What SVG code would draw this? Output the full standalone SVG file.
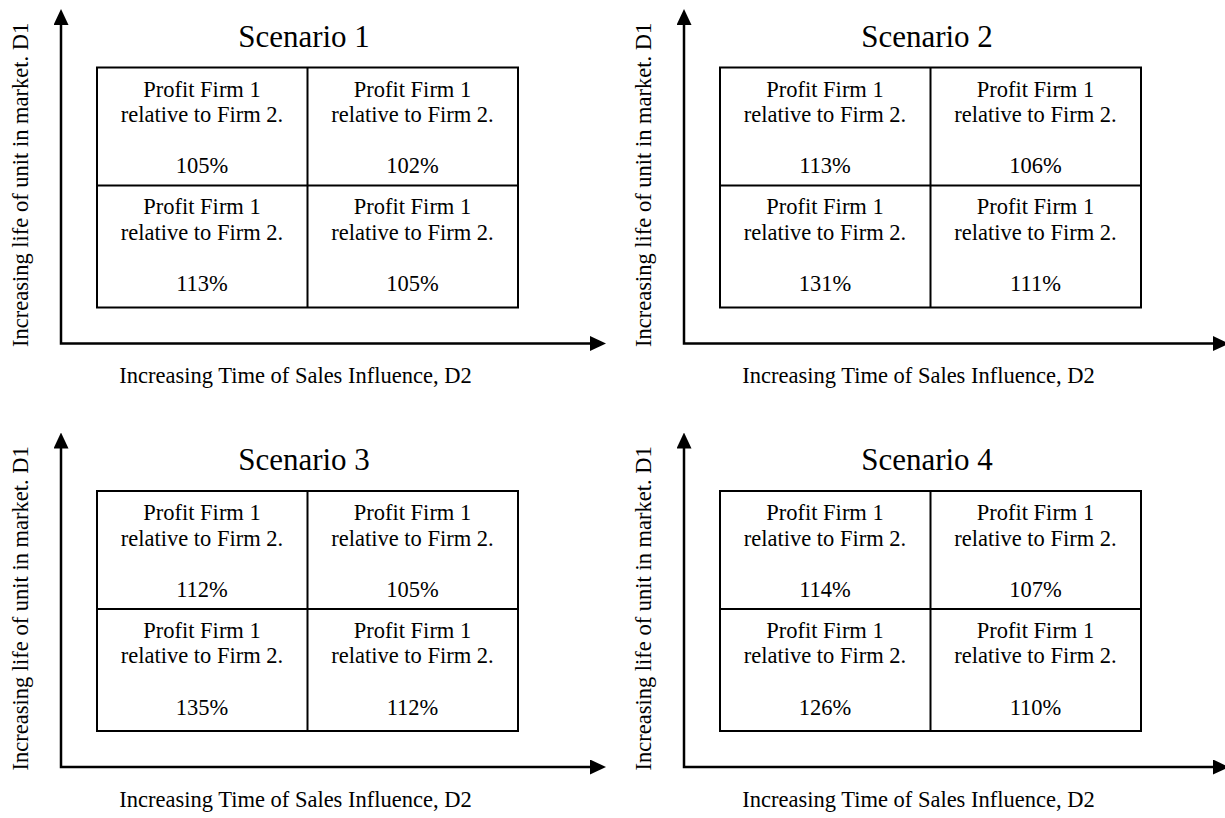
<svg xmlns="http://www.w3.org/2000/svg" width="1225" height="818" viewBox="0 0 1225 818">
<style>
text{font-family:"Liberation Serif","Times New Roman",serif;fill:#000}
.cell{font-size:22.5px;text-anchor:middle}
.title{font-size:31px;text-anchor:middle}
.lab{font-size:22.5px}
.xl{text-anchor:middle}
.box{fill:#fff;stroke:#000;stroke-width:2}
.div{stroke:#000;stroke-width:2;fill:none}
.axis{fill:none;stroke:#000;stroke-width:2.5;marker-start:url(#ah);marker-end:url(#ah)}
</style>
<defs>
<marker id="ah" viewBox="0 0 16 15" refX="1" refY="7.5" markerWidth="16" markerHeight="15" markerUnits="userSpaceOnUse" orient="auto-start-reverse">
<path d="M0,0 L16,7.5 L0,15 z" fill="#000"/>
</marker>
<g id="grid">
<rect class="box" x="97" y="67.5" width="421" height="240"/>
<path class="div" d="M307.5,67.5 V307.5 M97,185.5 H518"/>
</g>
</defs>
<rect width="1225" height="818" fill="#fff"/>
<g id="connectors">
<path class="axis" d="M61,24 V343.5 H591"/>
<path class="axis" d="M684,24 V343.5 H1214"/>
<path class="axis" d="M61,447.5 V767 H591"/>
<path class="axis" d="M684,447.5 V767 H1214"/>
</g>
<g id="scenario1">
<use href="#grid"/>
<text class="title" x="304" y="46.5">Scenario 1</text>
<text class="cell"><tspan x="202" y="96.7">Profit Firm 1</tspan><tspan x="202" y="122.2">relative to Firm 2.</tspan><tspan x="202" y="173.2">105%</tspan></text>
<text class="cell"><tspan x="412.5" y="96.7">Profit Firm 1</tspan><tspan x="412.5" y="122.2">relative to Firm 2.</tspan><tspan x="412.5" y="173.2">102%</tspan></text>
<text class="cell"><tspan x="202" y="214">Profit Firm 1</tspan><tspan x="202" y="239.5">relative to Firm 2.</tspan><tspan x="202" y="291">113%</tspan></text>
<text class="cell"><tspan x="412.5" y="214">Profit Firm 1</tspan><tspan x="412.5" y="239.5">relative to Firm 2.</tspan><tspan x="412.5" y="291">105%</tspan></text>
<text class="lab xl" x="295.5" y="383">Increasing Time of Sales Influence, D2</text>
<text class="lab" transform="translate(28,347) rotate(-90)">Increasing life of unit in market. D1</text>
</g>
<g id="scenario2" transform="translate(623,0)">
<use href="#grid"/>
<text class="title" x="304" y="46.5">Scenario 2</text>
<text class="cell"><tspan x="202" y="96.7">Profit Firm 1</tspan><tspan x="202" y="122.2">relative to Firm 2.</tspan><tspan x="202" y="173.2">113%</tspan></text>
<text class="cell"><tspan x="412.5" y="96.7">Profit Firm 1</tspan><tspan x="412.5" y="122.2">relative to Firm 2.</tspan><tspan x="412.5" y="173.2">106%</tspan></text>
<text class="cell"><tspan x="202" y="214">Profit Firm 1</tspan><tspan x="202" y="239.5">relative to Firm 2.</tspan><tspan x="202" y="291">131%</tspan></text>
<text class="cell"><tspan x="412.5" y="214">Profit Firm 1</tspan><tspan x="412.5" y="239.5">relative to Firm 2.</tspan><tspan x="412.5" y="291">111%</tspan></text>
<text class="lab xl" x="295.5" y="383">Increasing Time of Sales Influence, D2</text>
<text class="lab" transform="translate(28,347) rotate(-90)">Increasing life of unit in market. D1</text>
</g>
<g id="scenario3" transform="translate(0,423.5)">
<use href="#grid"/>
<text class="title" x="304" y="46.5">Scenario 3</text>
<text class="cell"><tspan x="202" y="96.7">Profit Firm 1</tspan><tspan x="202" y="122.2">relative to Firm 2.</tspan><tspan x="202" y="173.2">112%</tspan></text>
<text class="cell"><tspan x="412.5" y="96.7">Profit Firm 1</tspan><tspan x="412.5" y="122.2">relative to Firm 2.</tspan><tspan x="412.5" y="173.2">105%</tspan></text>
<text class="cell"><tspan x="202" y="214">Profit Firm 1</tspan><tspan x="202" y="239.5">relative to Firm 2.</tspan><tspan x="202" y="291">135%</tspan></text>
<text class="cell"><tspan x="412.5" y="214">Profit Firm 1</tspan><tspan x="412.5" y="239.5">relative to Firm 2.</tspan><tspan x="412.5" y="291">112%</tspan></text>
<text class="lab xl" x="295.5" y="383">Increasing Time of Sales Influence, D2</text>
<text class="lab" transform="translate(28,347) rotate(-90)">Increasing life of unit in market. D1</text>
</g>
<g id="scenario4" transform="translate(623,423.5)">
<use href="#grid"/>
<text class="title" x="304" y="46.5">Scenario 4</text>
<text class="cell"><tspan x="202" y="96.7">Profit Firm 1</tspan><tspan x="202" y="122.2">relative to Firm 2.</tspan><tspan x="202" y="173.2">114%</tspan></text>
<text class="cell"><tspan x="412.5" y="96.7">Profit Firm 1</tspan><tspan x="412.5" y="122.2">relative to Firm 2.</tspan><tspan x="412.5" y="173.2">107%</tspan></text>
<text class="cell"><tspan x="202" y="214">Profit Firm 1</tspan><tspan x="202" y="239.5">relative to Firm 2.</tspan><tspan x="202" y="291">126%</tspan></text>
<text class="cell"><tspan x="412.5" y="214">Profit Firm 1</tspan><tspan x="412.5" y="239.5">relative to Firm 2.</tspan><tspan x="412.5" y="291">110%</tspan></text>
<text class="lab xl" x="295.5" y="383">Increasing Time of Sales Influence, D2</text>
<text class="lab" transform="translate(28,347) rotate(-90)">Increasing life of unit in market. D1</text>
</g>
</svg>
